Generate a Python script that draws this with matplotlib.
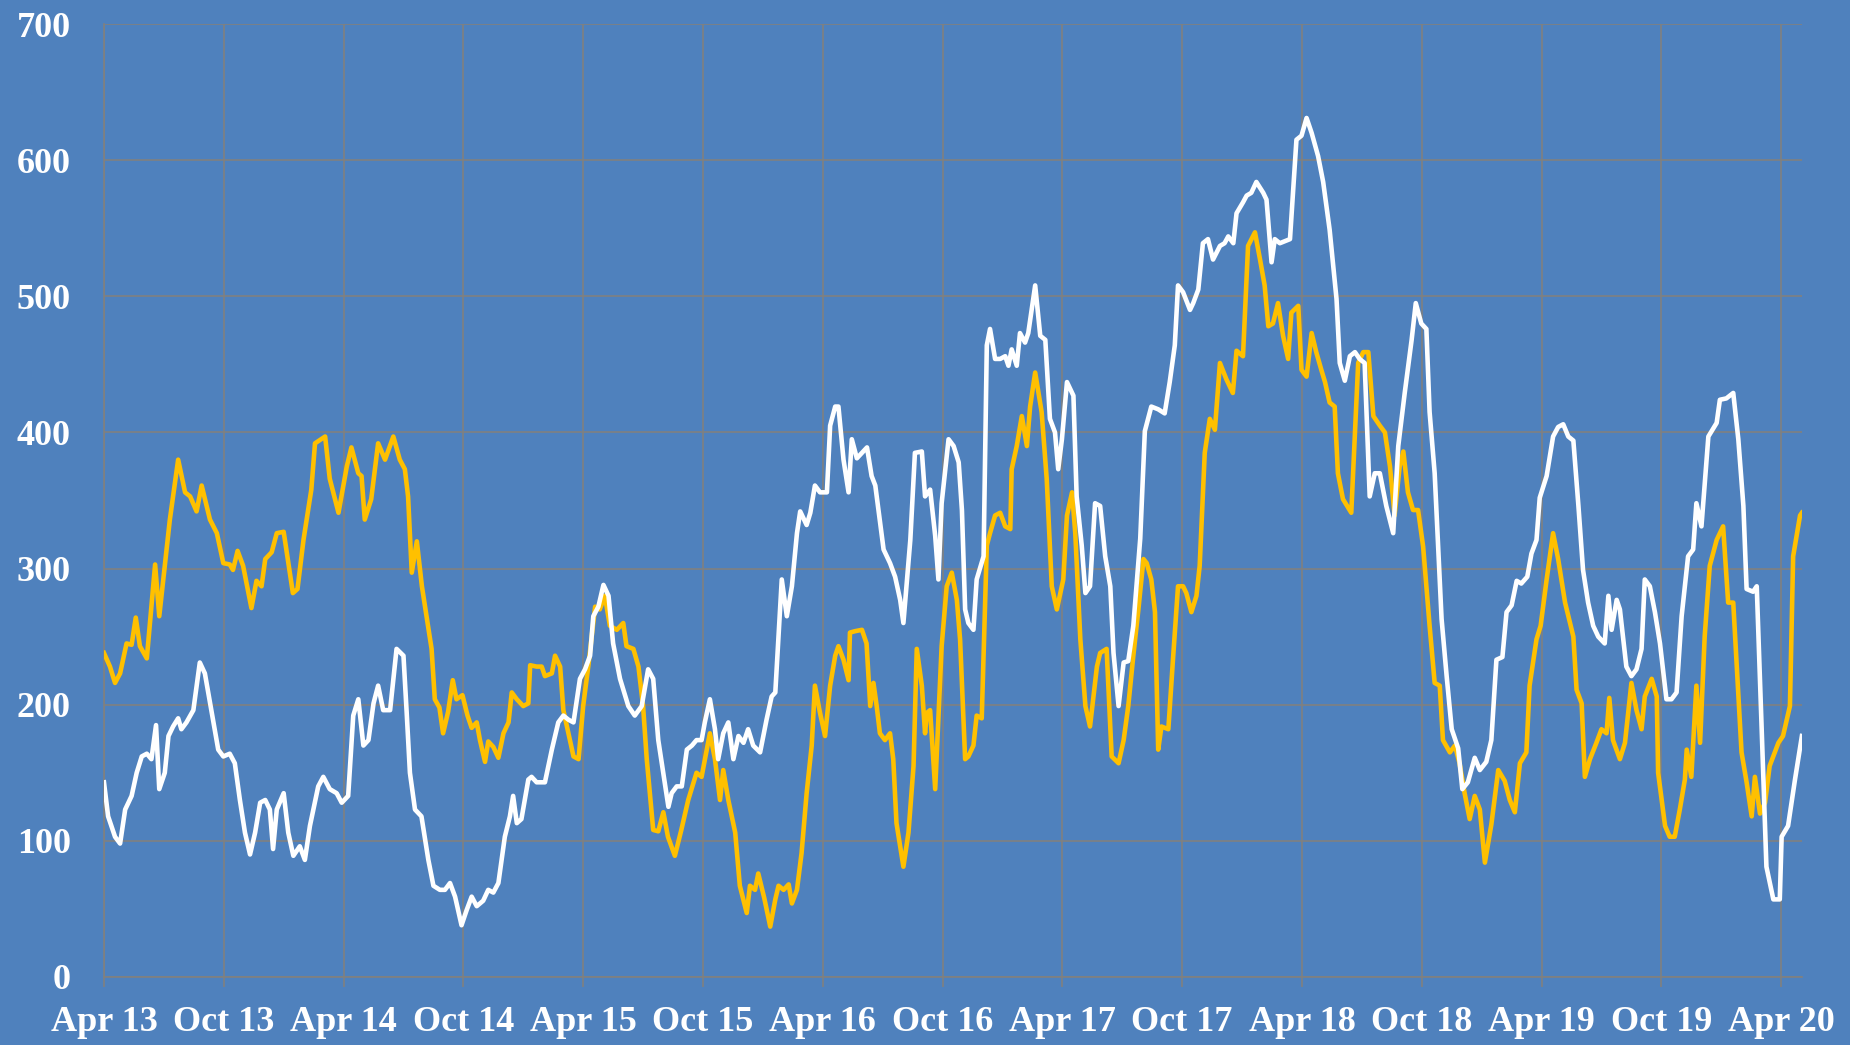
import matplotlib
matplotlib.use("Agg")
import matplotlib.pyplot as plt

# ---- data (week index from Apr 2013, value) ----
gold_weeks = [0, 1.3, 2.4, 3.5, 4.9, 6, 6.9, 7.8, 9.3, 11.1, 12, 14.3, 16.1, 17.6, 18.7, 20.1, 21.2, 23, 24.5, 25.9,
              27.3, 28, 29, 30.2, 32, 33.1, 34.2, 35, 36.4, 37.5, 39, 41, 42, 43.3, 45, 45.8, 48, 49, 50.9, 52.7,
              53.7, 55.2, 55.9, 56.6, 58, 59.5, 61, 62.8, 64.2, 65.3, 66, 66.8, 67.9, 69, 71.1, 71.8, 72.8, 73.6,
              74.7, 75.7, 76.5, 77.8, 78.9, 79.8, 80.9, 81.6, 82.7, 83.4, 84.5, 85.6, 86.7, 87.8, 88.5, 89.6, 91,
              92.1, 92.5, 93.9, 95, 95.7, 97.2, 97.9, 99, 99.7, 100.8, 101.9, 103, 104, 105.1, 106.6, 107.6, 108.7,
              109.8, 111.3, 112.7, 113.4, 114.9, 116, 117, 117.8, 119.2, 120.3, 121.4, 122.4, 123.9, 125.3, 126.8,
              128.6, 129.7, 131.5, 132.6, 133.7, 134.4, 135.5, 137, 138, 139.5, 140.2, 141.3, 142, 143.3, 144.6,
              145.7, 146.4, 147.5, 148.6, 149.3, 150.4, 151.4, 152.5, 153.6, 154.3, 155.4, 156.5, 157.6, 158.7,
              159.4, 160.5, 161.6, 161.9, 163, 164.5, 165.5, 166.3, 167, 167.7, 168.4, 169.5, 170.6, 171.3, 172,
              173.5, 174.6, 175.7, 176.4, 177.5, 178.2, 178.6, 179.3, 180.4, 181.8, 182.9, 184, 185.1, 185.8,
              186.9, 187.6, 188.7, 189.4, 190.5, 191.6, 192.3, 193.4, 194.5, 195.6, 196.7, 197, 198.1, 199.2,
              200.3, 201, 202.1, 203.5, 204.6, 205.7, 206.8, 208.2, 209, 210.1, 210.8, 211.9, 213, 214, 215.5,
              216.2, 217.6, 218.7, 220.2, 221.3, 222.3, 223.4, 224.5, 225.6, 226.3, 227.3, 228.1, 228.8, 229.5,
              231, 232, 233.1, 234.2, 234.9, 236, 237.1, 237.8, 238.9, 240, 241.1, 242.2, 243.6, 245, 245.8,
              247.2, 248.3, 249.8, 250.9, 251.9, 252.7, 253.7, 254.8, 255.9, 257, 257.7, 259.2, 259.9, 261,
              262.1, 263.1, 264.2, 265, 266, 267.1, 267.8, 268.9, 270.7, 272.2, 273.3, 274.4, 275.5, 276.9, 278,
              279.1, 280.1, 281.2, 282, 283, 284.1, 285.2, 286.3, 287.7, 288.8, 289.9, 290.6, 292.1, 293.2,
              294.2, 295.3, 296.4, 297.5, 298.6, 299.7, 301.1, 302.6, 304, 305.1, 306.2, 307.3, 308.7, 309.4,
              310.9, 311.8, 313.1, 314.5, 315.6, 317.1, 318.9, 319.6, 320.7, 321.4, 322.5, 323.9, 325, 326.1,
              326.7, 327.5, 329, 330.1, 331.5, 332.6, 333.7, 334.4, 335.9, 337, 337.3, 338.8, 339.8, 340.9, 342,
              343.1, 343.5, 344.5, 345.6, 346.4, 347.4, 348.5, 350, 351.4, 352.5, 353.6, 355.4, 356.5, 357.6,
              358.3, 359.4, 360.5, 361.5, 363.4, 364.4, 365.9, 366.6, 368.1, 368.5]
gold_values = [238, 228, 216, 223, 245, 244, 264, 243, 234, 303, 265, 336, 380, 356, 353, 342, 361, 336, 326, 304,
               303, 299, 313, 302, 271, 291, 287, 307, 312, 326, 327, 282, 285, 321, 358, 392, 397, 366, 341, 375,
               389, 370, 368, 336, 351, 392, 380, 397, 380, 373, 353, 297, 320, 287, 241, 204, 198, 179,
               195, 218, 204, 207, 192, 183, 187, 174, 158, 173, 169, 161, 179, 187, 209, 204, 199,
               201, 229, 228, 228, 221, 223, 236, 228, 196, 179, 162, 160, 199, 228, 272, 270, 280,
               258, 255, 260, 243, 241, 228, 199, 160, 108, 107, 121, 103, 89, 108, 130,
               150, 147, 179, 160, 130, 152, 130, 106, 67, 47, 67, 64, 76, 58, 37,
               57, 67, 64, 68, 54, 64, 91, 135, 170, 214, 194, 177, 214, 236,
               243, 233, 218, 253, 254, 255, 245, 199, 216, 199, 179, 174, 179, 160, 113,
               81, 106, 155, 241, 214, 179, 194, 196, 138, 243, 287, 297, 277, 248,
               160, 162, 170, 192, 190, 317, 326, 339, 341, 331, 329, 373, 390, 412,
               390, 419, 444, 415, 366, 287, 270, 292, 339, 356, 326, 248, 199, 184, 228,
               238, 241, 162, 157, 174, 199, 236, 270, 307, 304, 292, 268, 167, 184,
               182, 233, 287, 287, 282, 268, 280, 302, 385, 410, 402, 451, 439, 429, 460,
               456, 537, 547, 527, 508, 478, 480, 495, 471, 454, 488, 493, 446, 441,
               473, 459, 446, 437, 422, 419, 370, 351, 341, 451, 459, 459, 412, 405, 400,
               375, 339, 375, 386, 356, 343, 343, 316, 258, 216, 214, 174, 165, 170,
               157, 135, 116, 133, 123, 84, 112, 152, 144, 130, 121, 157, 165, 214,
               248, 258, 292, 326, 307, 275, 250, 211, 201, 147, 160, 172, 182, 179,
               205, 174, 160, 172, 216, 196, 182, 206, 219, 206, 150, 111, 103, 103, 123,
               145, 167, 147, 214, 172, 250, 302, 321, 331, 275, 275, 165, 143, 118,
               147, 120, 128, 155, 172, 177, 199, 309, 339, 341]

white_weeks = [0, 0.9, 2.4, 3.5, 4.6, 6, 7.1, 8.2, 9.3, 10.3, 11.3, 12, 13.2, 14, 15, 16.1, 16.8, 17.9, 19.4, 20.8,
               21.9, 23.4, 24.8, 25.9, 27.3, 28.4, 29.5, 30.6, 31.7, 32.8, 33.9, 35, 36, 36.7, 37.5, 39, 40, 41.1,
               42.5, 43.6, 44.7, 46.5, 47.6, 49, 50.5, 51.6, 53, 54.1, 55.2, 56.3, 57.4, 58.5, 59.5, 60.6, 62.1,
               63.5, 65, 65.7, 66.4, 67.5, 68.9, 70.4, 71.5, 72.9, 74, 75.1, 76.2, 77.6, 78.7, 79.8, 80.9, 82.3,
               83.4, 84.5, 85.6, 87, 88.1, 88.8, 89.6, 90.6, 92.1, 92.8, 93.9, 95.7, 97.2, 98.6, 99.7, 100.8,
               101.9, 103.3, 104.4, 105.5, 106.2, 107.3, 108.4, 109.5, 110.5, 112, 113.8, 115.2, 116.7, 118.1,
               119.2, 120.3, 122.5, 123.2, 124.3, 125.4, 126.5, 127.6, 128.6, 129.7, 130.4, 131.5, 132.6, 133.3,
               134.4, 135.5, 136.6, 137.7, 138.8, 139.8, 140.9, 142.4, 143.8, 144.9, 145.7, 147.1, 148.2, 149.3,
               150.4, 151.1, 152.5, 153.3, 154.3, 155.4, 156.9, 157.6, 158.7, 159.4, 160.5, 161.6, 162.3, 163.4,
               164.5, 165.6, 166.6, 167.4, 169.2, 170.6, 171.7, 172.8, 173.5, 175, 176, 177.5, 178.2, 179.3,
               180.4, 181.1, 181.8, 183.3, 184.4, 185.5, 186.2, 186.9, 187.6, 188.7, 189.4, 190.9, 191.6, 192.3,
               193.4, 194.5, 195.6, 196.3, 197, 198.1, 198.8, 199.9, 200.6, 202.1, 203.2, 204.3, 205.3, 206.4,
               207.1, 207.9, 209, 210.4, 211.1, 212.2, 213, 214, 215.1, 216.2, 217.3, 218.4, 219.1, 220.2, 221.3,
               222.3, 223.4, 224.9, 225.9, 227.3, 228.8, 230.2, 231.3, 232.4, 233.1, 234.2, 235.7, 236.4, 237.5,
               238.5, 239.6, 240.7, 242.2, 243.2, 244, 245.1, 245.8, 247.2, 248, 249, 250.1, 251.6, 252.3, 253.4,
               254.1, 255.2, 257.4, 258.8, 259.9, 261, 262.1, 263.5, 264.6, 266, 267.5, 268.2, 269.3, 270.4,
               271.5, 272.5, 273.6, 274.7, 275.8, 276.9, 278.3, 279.8, 280.9, 282.3, 283.8, 284.7, 285.9, 287,
               287.7, 288.8, 290.3, 291.4, 292.5, 293.9, 294.8, 296, 297.5, 298.6, 300, 301.1, 302.2, 303.5,
               304.4, 305.5, 306.6, 307.6, 308.9, 309.8, 310.9, 311.6, 313.1, 314.5, 315.6, 316.7, 317.8, 318.9,
               320, 321, 322.1, 323.2, 324.3, 325.7, 326.5, 327.2, 328.3, 329, 330.4, 331.5, 332.6, 333.7, 334.4,
               335.5, 336.6, 337.7, 339.1, 340.2, 341.3, 342.4, 343.8, 344.9, 345.6, 346.7, 348.2, 350, 350.7,
               352.1, 353.6, 354.7, 355.8, 356.5, 357.9, 358.7, 359.7, 360.8, 362.3, 363.7, 364.1, 365.5, 367,
               368.5]
white_values = [143, 118, 103, 98, 123, 133, 150, 162, 164, 160, 185, 138, 150, 177, 184, 190, 182, 187, 196, 231,
                223, 194, 167, 162, 164, 157, 130, 106, 90, 106, 128, 130, 123, 94, 123, 135, 106, 89,
                96, 86, 111, 140, 147, 138, 135, 128, 133, 192, 204, 170, 174, 201, 214, 196, 196,
                241, 236, 194, 150, 123, 118, 86, 67, 64, 64, 69, 59, 38, 49, 59, 52, 56,
                64, 62, 69, 103, 118, 133, 113, 116, 145, 147, 143, 143, 167, 187, 192, 189,
                187, 219, 226, 236, 265, 272, 288, 280, 245, 219, 199, 192, 199, 226,
                219, 174, 125, 135, 140, 140, 167, 170, 174, 174, 187, 204, 182, 160,
                179, 187, 160, 177, 172, 182, 170, 165, 189, 206, 209, 292, 265, 287,
                326, 342, 332, 341, 361, 356, 356, 405, 419, 419, 380, 356, 395, 381,
                385, 389, 368, 361, 314, 304, 294, 277, 260, 321, 385, 386, 353, 358,
                324, 292, 348, 395, 390, 378, 343, 270, 260, 255, 292, 309, 464, 476,
                454, 454, 456, 449, 461, 449, 473, 466, 473, 508, 471, 468, 410, 400,
                373, 395, 437, 427, 353, 317, 282, 287, 348, 346, 309, 287, 238, 199, 231,
                232, 258, 322, 401, 419, 417, 414, 437, 464, 508, 503, 490, 495, 505,
                539, 542, 527, 537, 539, 544, 539, 561, 569, 574, 576, 584, 576, 571, 525,
                542, 539, 542, 615, 618, 631, 620, 603, 584, 549, 498, 451, 438, 456,
                459, 454, 451, 353, 370, 370, 346, 326, 390, 429, 468, 495, 480, 476,
                415, 370, 263, 221, 182, 168, 138, 143, 161, 152, 158, 174, 233, 235,
                268, 273, 291, 289, 294, 311, 321, 352, 368, 397, 404, 406, 397, 394,
                346, 299, 275, 258, 250, 245, 280, 255, 277, 270, 228, 221, 226, 241, 292,
                287, 268, 245, 204, 204, 209, 265, 309, 314, 348, 331, 397, 407, 424,
                425, 429, 395, 346, 285, 283, 287, 189, 81, 57, 57, 103, 111, 145,
                177]

tick_weeks = [0, 26, 52, 78, 104, 130, 156, 182, 208, 234, 260, 286, 312, 338, 364]
tick_labels = ["Apr 13", "Oct 13", "Apr 14", "Oct 14", "Apr 15", "Oct 15", "Apr 16", "Oct 16",
               "Apr 17", "Oct 17", "Apr 18", "Oct 18", "Apr 19", "Oct 19", "Apr 20"]
y_ticks = [0, 100, 200, 300, 400, 500, 600, 700]

BG = "#4F81BD"
GRID = "#808080"

fig = plt.figure(figsize=(18.5, 10.45), dpi=100, facecolor=BG)
ax = fig.add_axes([0.0562, 0.0651, 0.974 - 0.0562, 0.977 - 0.0651])
ax.set_facecolor(BG)

ax.plot(gold_weeks, gold_values, color="#FFC000", lw=3.3, solid_joinstyle="round", zorder=3)
ax.plot(white_weeks, white_values, color="white", lw=3.3, solid_joinstyle="round", zorder=4)

ax.set_xlim(0, 368.5)
ax.set_ylim(0, 700)
ax.set_xticks(tick_weeks)
ax.set_xticklabels(tick_labels)
ax.set_yticks(y_ticks)

ax.grid(True, color=GRID, lw=1.2)
ax.set_axisbelow(True)
for s in ["top", "right"]:
    ax.spines[s].set_visible(False)
for s in ["left", "bottom"]:
    ax.spines[s].set_color(GRID)
    ax.spines[s].set_linewidth(1.2)

for lab in ax.get_xticklabels() + ax.get_yticklabels():
    lab.set_fontfamily("Liberation Serif")
    lab.set_fontweight("bold")
    lab.set_fontsize(26)
    lab.set_color("white")

ax.tick_params(axis="x", length=7, width=1.2, color=GRID, pad=14)
ax.tick_params(axis="y", length=0, pad=24)

fig.savefig("out.png", dpi=100, facecolor=BG)
